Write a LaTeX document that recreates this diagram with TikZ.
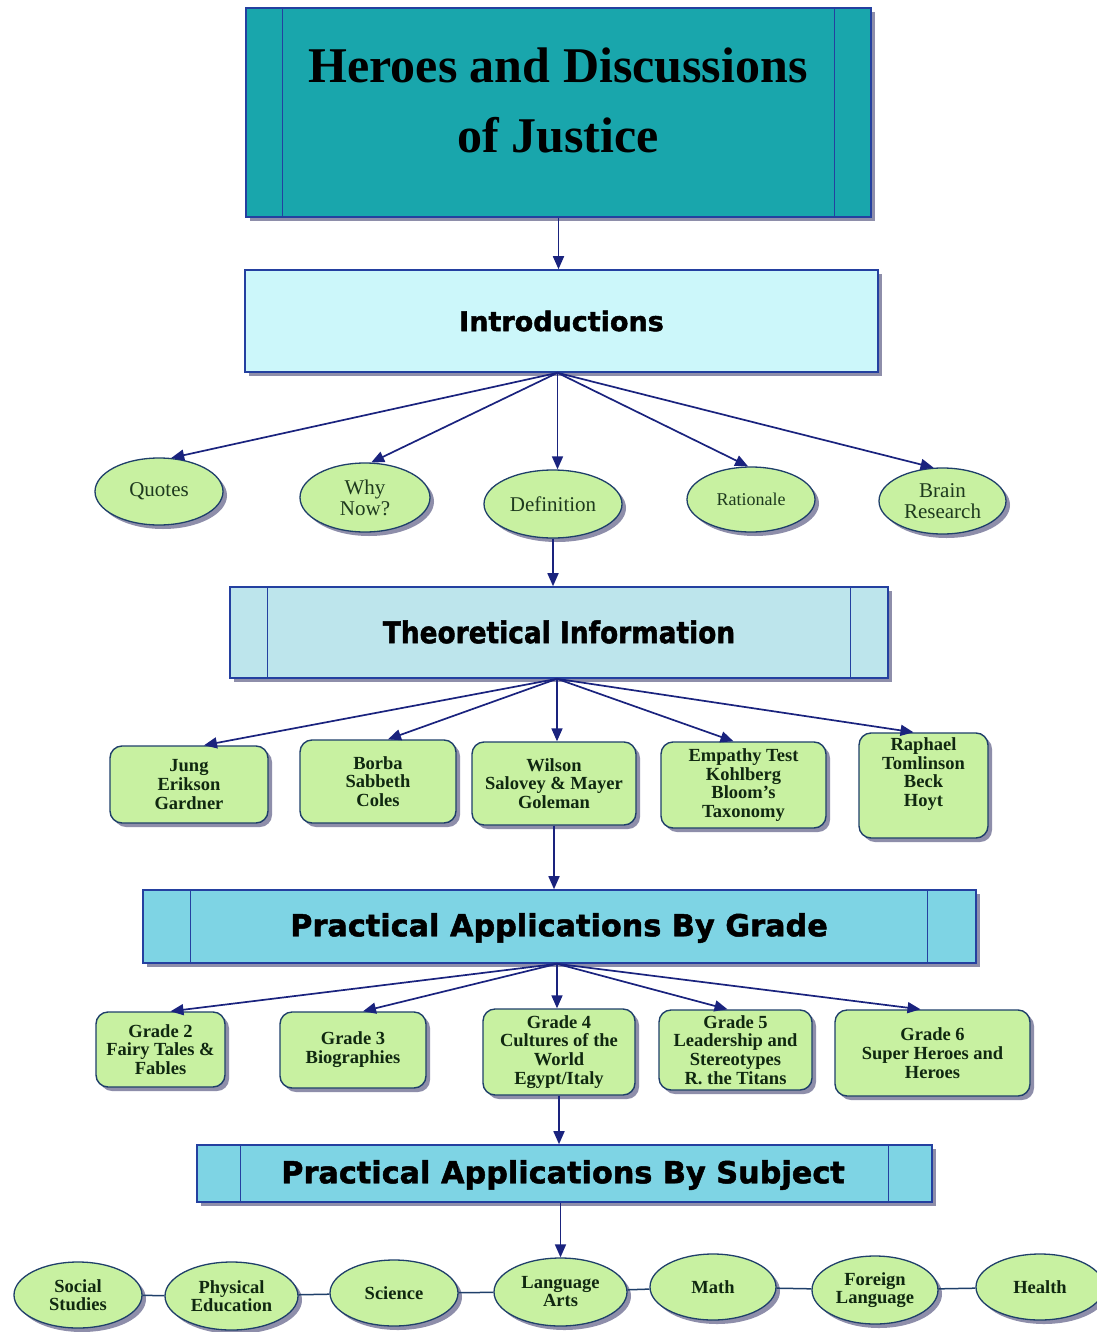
\documentclass[tikz,border=0pt]{standalone}
\usepackage{fontspec}
\usepackage{graphicx}
\setmainfont{Liberation Serif}
\newfontfamily\headfont{DejaVu Sans}[BoldFeatures={FakeBold=1.6}]
\usetikzlibrary{arrows.meta,shapes.geometric,shadows}
\definecolor{bluebord}{HTML}{2440A0}
\definecolor{tealfill}{HTML}{19A6AC}
\definecolor{introfill}{HTML}{CCF7FA}
\definecolor{theofill}{HTML}{BDE5EC}
\definecolor{pracfill}{HTML}{7ED4E4}
\definecolor{greenfill}{HTML}{C8F1A1}
\definecolor{greenbord}{HTML}{1F3F6A}
\definecolor{arrowc}{HTML}{1A237E}
\definecolor{shadowc}{HTML}{8E8EAA}
\definecolor{greentext}{HTML}{1E3A1E}
\definecolor{boxtext}{HTML}{102810}
\begin{document}
\begin{tikzpicture}[x=1pt,y=-1pt,
  shad/.style={drop shadow={shadow xshift=4pt,shadow yshift=-4pt,fill=shadowc,opacity=1}},
  hdr/.style={rectangle,draw=bluebord,line width=1.6pt,inner sep=0pt,shad},
  inline/.style={draw=bluebord,line width=1.3pt},
  oval/.style={ellipse,draw=greenbord,line width=1.3pt,fill=greenfill,inner sep=0pt,
    text=greentext,align=center,font=\fontsize{21}{21}\selectfont,shad},
  suboval/.style={oval,text=boxtext,font=\bfseries\fontsize{18.5}{18}\selectfont},
  gbox/.style={rectangle,rounded corners=12pt,draw=greenbord,line width=1.4pt,fill=greenfill,
    inner sep=0pt,align=center,text=boxtext,font=\bfseries\fontsize{18.5}{18.8}\selectfont,shad},
  arr/.style={draw=arrowc,line width=1.7pt,-{Triangle[length=13pt,width=11pt]}},
  conn/.style={draw=greenbord,line width=1.5pt},
  headtxt/.style={font=\headfont\bfseries\fontsize{27}{30}\selectfont}]
\useasboundingbox (0,0) rectangle (1096,1332);
\fill[white] (0,0) rectangle (1096,1332);

% title
\node[hdr,fill=tealfill,minimum width=625pt,minimum height=209pt] (title) at (558.5,112.5) {};
\draw[inline] ([xshift=37pt]title.north west) -- ([xshift=37pt]title.south west);
\draw[inline] ([xshift=-37pt]title.north east) -- ([xshift=-37pt]title.south east);
\node[font=\bfseries\fontsize{50}{70}\selectfont,align=center] (titletext) at (558,100) {Heroes and Discussions\\of Justice};

% introductions
\node[hdr,fill=introfill,minimum width=633pt,minimum height=102pt,headtxt] (intro) at (561.5,321) {Introductions};
\coordinate (ihub) at ([xshift=-4pt]intro.south);

\node[oval,minimum width=128pt,minimum height=67pt] (quotes) at (159,491.5) {Quotes};
\node[oval,minimum width=130pt,minimum height=69pt] (whynow) at (365,497.5) {Why\\Now?};
\node[oval,minimum width=138pt,minimum height=68pt] (def) at (553,504) {Definition};
\node[oval,minimum width=128pt,minimum height=65pt,font=\fontsize{18}{18}\selectfont] (rat) at (751,499.5) {Rationale};
\node[oval,minimum width=127pt,minimum height=66pt] (brain) at (942.5,501) {Brain\\Research};

% theoretical
\node[hdr,fill=theofill,minimum width=658pt,minimum height=91pt] (theo) at (559,632.5) {};
\draw[inline] ([xshift=38pt]theo.north west) -- ([xshift=38pt]theo.south west);
\draw[inline] ([xshift=-38pt]theo.north east) -- ([xshift=-38pt]theo.south east);
\node[font=\headfont\bfseries\fontsize{30}{30}\selectfont] (theotext) at (559,632) {\scalebox{0.88}[1]{Theoretical Information}};
\coordinate (thub) at ([xshift=-2pt]theo.south);

\node[gbox,minimum width=158pt,minimum height=77pt] (jung) at (189,784.5) {Jung\\Erikson\\Gardner};
\node[gbox,minimum width=156pt,minimum height=83pt] (borba) at (378,781.5) {Borba\\Sabbeth\\Coles};
\node[gbox,minimum width=164pt,minimum height=83pt] (wilson) at (554,783.5) {Wilson\\Salovey \& Mayer\\Goleman};
\node[gbox,minimum width=165pt,minimum height=86pt] (emp) at (743.5,785) {Empathy Test\\Kohlberg\\Bloom's\\Taxonomy};
\node[gbox,minimum width=129pt,minimum height=105pt] (raph) at (923.5,785.5) {Raphael\\Tomlinson\\Beck\\Hoyt\\[8pt]};

% practical by grade
\node[hdr,fill=pracfill,minimum width=833pt,minimum height=73pt] (grade) at (559.5,926.5) {};
\draw[inline] ([xshift=48pt]grade.north west) -- ([xshift=48pt]grade.south west);
\draw[inline] ([xshift=-49pt]grade.north east) -- ([xshift=-49pt]grade.south east);
\node[font=\headfont\bfseries\fontsize{30.3}{30}\selectfont] (gradetext) at (559,928) {Practical Applications By Grade};
\coordinate (ghub) at ([xshift=-2.5pt]grade.south);

\node[gbox,minimum width=129pt,minimum height=75pt] (g2) at (160.5,1049.5) {Grade 2\\Fairy Tales \&\\Fables};
\node[gbox,minimum width=146pt,minimum height=76pt] (g3) at (353,1050) {Grade 3\\Biographies};
\node[gbox,minimum width=152pt,minimum height=86pt] (g4) at (559,1052) {Grade 4\\Cultures of the\\World\\Egypt/Italy};
\node[gbox,minimum width=153pt,minimum height=80pt] (g5) at (735.5,1050) {Grade 5\\Leadership and\\Stereotypes\\R. the Titans};
\node[gbox,minimum width=195pt,minimum height=86pt] (g6) at (932.5,1053) {Grade 6\\Super Heroes and\\Heroes};

% practical by subject
\node[hdr,fill=pracfill,minimum width=735pt,minimum height=57pt] (subj) at (564.5,1173.5) {};
\draw[inline] ([xshift=44pt]subj.north west) -- ([xshift=44pt]subj.south west);
\draw[inline] ([xshift=-44pt]subj.north east) -- ([xshift=-44pt]subj.south east);
\node[font=\headfont\bfseries\fontsize{30.3}{30}\selectfont] (subjtext) at (563,1175) {Practical Applications By Subject};

\node[suboval,minimum width=128pt,minimum height=66pt] (social) at (78,1295) {Social\\Studies};
\node[suboval,minimum width=133pt,minimum height=68pt] (phys) at (231.5,1296) {Physical\\Education};
\node[suboval,minimum width=128pt,minimum height=66pt] (sci) at (394,1293) {Science};
\node[suboval,minimum width=133pt,minimum height=68pt] (lang) at (560.5,1292) {Language\\Arts};
\node[suboval,minimum width=126pt,minimum height=66pt] (math) at (713,1287) {Math};
\node[suboval,minimum width=126pt,minimum height=68pt] (foreign) at (875,1290) {Foreign\\Language};
\node[suboval,minimum width=128pt,minimum height=66pt] (health) at (1040,1287) {Health};

% connectors
\draw[arr] (title.south) -- (title.south |- intro.north);
\draw[arr] (ihub) -- (quotes.70);
\draw[arr] (ihub) -- (whynow.80);
\draw[arr] (ihub) -- (ihub |- def.north);
\draw[arr] (ihub) -- (rat.95);
\draw[arr] (ihub) -- (brain.105);
\draw[arr] (def.south) -- (def.south |- theo.north);
\draw[arr] (thub) -- ([xshift=15pt]jung.north);
\draw[arr] (thub) -- ([xshift=10pt]borba.north);
\draw[arr] (thub) -- (thub |- wilson.north);
\draw[arr] (thub) -- ([xshift=-10pt]emp.north);
\draw[arr] (thub) -- ([xshift=-10pt]raph.north);
\draw[arr] (wilson.south) -- (wilson.south |- grade.north);
\draw[arr] (ghub) -- ([xshift=10pt]g2.north);
\draw[arr] (ghub) -- ([xshift=10pt]g3.north);
\draw[arr] (ghub) -- (ghub |- g4.north);
\draw[arr] (ghub) -- ([xshift=-8pt]g5.north);
\draw[arr] (ghub) -- ([xshift=-12pt]g6.north);
\draw[arr] (g4.south) -- (g4.south |- subj.north);
\draw[arr] (lang.north |- subj.south) -- (lang.north);
\draw[conn] (social) -- (phys);
\draw[conn] (phys) -- (sci);
\draw[conn] (sci) -- (lang);
\draw[conn] (lang) -- (math);
\draw[conn] (math) -- (foreign);
\draw[conn] (foreign) -- (health);
\end{tikzpicture}
\end{document}
